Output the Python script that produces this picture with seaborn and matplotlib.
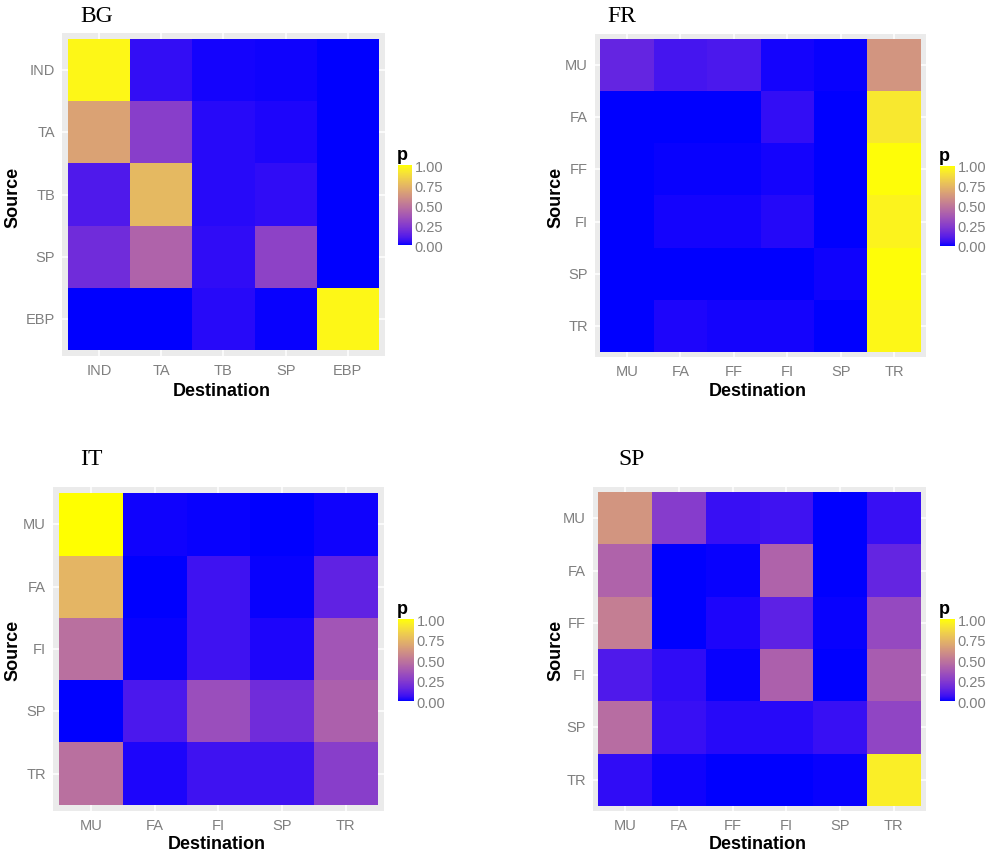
import numpy as np
import pandas as pd
import matplotlib
matplotlib.use("Agg")
import matplotlib.pyplot as plt
from matplotlib.colors import ListedColormap
import seaborn as sns

# ---- data ----
bg_labels = ["IND", "TA", "TB", "SP", "EBP"]
bg_values = [
    [0.97, 0.05, 0.015, 0.01, 0.00],
    [0.67, 0.26, 0.035, 0.02, 0.00],
    [0.10, 0.75, 0.035, 0.045, 0.00],
    [0.18, 0.42, 0.045, 0.28, 0.00],
    [0.00, 0.00, 0.035, 0.005, 0.97],
]

fr_labels = ["MU", "FA", "FF", "FI", "SP", "TR"]
fr_values = [
    [0.15, 0.08, 0.09, 0.015, 0.005, 0.62],
    [0.00, 0.00, 0.00, 0.05, 0.00, 0.92],
    [0.00, 0.005, 0.005, 0.015, 0.00, 0.99],
    [0.00, 0.015, 0.015, 0.03, 0.00, 0.96],
    [0.00, 0.00, 0.00, 0.00, 0.01, 0.99],
    [0.00, 0.02, 0.015, 0.015, 0.00, 0.97],
]

it_labels = ["MU", "FA", "FI", "SP", "TR"]
it_values = [
    [1.00, 0.01, 0.005, 0.00, 0.01],
    [0.74, 0.00, 0.07, 0.005, 0.14],
    [0.47, 0.005, 0.07, 0.02, 0.36],
    [0.00, 0.09, 0.33, 0.18, 0.41],
    [0.47, 0.02, 0.07, 0.07, 0.26],
]

sp_labels = ["MU", "FA", "FF", "FI", "SP", "TR"]
sp_values = [
    [0.62, 0.25, 0.055, 0.07, 0.00, 0.055],
    [0.42, 0.00, 0.005, 0.42, 0.00, 0.15],
    [0.53, 0.00, 0.02, 0.13, 0.005, 0.31],
    [0.10, 0.045, 0.005, 0.41, 0.00, 0.39],
    [0.46, 0.055, 0.035, 0.035, 0.055, 0.29],
    [0.045, 0.01, 0.00, 0.00, 0.005, 0.94],
]


# blue -> yellow gradient interpolated in CIELAB (like ggplot's scale_fill_gradient)
M = np.array([[0.4124, 0.3576, 0.1805],
              [0.2126, 0.7152, 0.0722],
              [0.0193, 0.1192, 0.9505]])
WHITE = np.array([0.95047, 1.0, 1.08883])


def to_lab(rgb):
    c = np.asarray(rgb, float)
    lin = np.where(c <= 0.04045, c / 12.92, ((c + 0.055) / 1.055) ** 2.4)
    xyz = M @ lin / WHITE
    f = np.where(xyz > 0.008856, np.cbrt(xyz), 7.787 * xyz + 16 / 116)
    return np.array([116 * f[1] - 16, 500 * (f[0] - f[1]), 200 * (f[1] - f[2])])


def from_lab(lab):
    L, a, b = lab
    fy = (L + 16) / 116
    f = np.array([fy + a / 500, fy, fy - b / 200])
    xyz = np.where(f ** 3 > 0.008856, f ** 3, (f - 16 / 116) / 7.787) * WHITE
    lin = np.clip(np.linalg.solve(M, xyz), 0, 1)
    c = np.where(lin <= 0.0031308, 12.92 * lin, 1.055 * lin ** (1 / 2.4) - 0.055)
    # the reference image is a bit darker than a plain Lab ramp
    return np.clip(c, 0, 1) ** 1.25


lab0, lab1 = to_lab([0, 0, 1]), to_lab([1, 1, 0])
cmap = ListedColormap([from_lab(lab0 + t * (lab1 - lab0)) for t in np.linspace(0, 1, 256)])

sns.set_theme(style="white")
plt.rcParams["font.family"] = ["Liberation Sans", "DejaVu Sans"]

fig = plt.figure(figsize=(9.92, 8.62), dpi=100)

panels = [
    ("BG", bg_labels, bg_values, [0.0625, 0.5858, 0.3256, 0.3747], [0.4012, 0.7146, 0.0141, 0.0928],
     (80, 17), (13, 197), (222, 392)),
    ("FR", fr_labels, fr_values, [0.5998, 0.5847, 0.3337, 0.3747], [0.9476, 0.7135, 0.0151, 0.0928],
     (607, 17), (556, 197), (758, 392)),
    ("IT", it_labels, it_values, [0.0534, 0.0580, 0.3337, 0.3759], [0.4012, 0.1856, 0.0161, 0.0951],
     (80, 460), (13, 650), (217, 845)),
    ("SP", sp_labels, sp_values, [0.5978, 0.0580, 0.3357, 0.3759], [0.9476, 0.1856, 0.0151, 0.0951],
     (618, 460), (556, 650), (758, 845)),
]

W, H = 992, 862
for name, labels, values, rect, crect, tpos, ypos, xpos in panels:
    ax = fig.add_axes(rect)
    cax = fig.add_axes(crect)
    df = pd.DataFrame(values, index=labels, columns=labels)
    sns.heatmap(df, ax=ax, cmap=cmap, vmin=0, vmax=1, cbar_ax=cax,
                cbar_kws={"ticks": [0, 0.25, 0.5, 0.75, 1.0], "format": "%.2f"})
    n = len(labels)
    ax.set_facecolor("#EBEBEB")
    ax.set_xlim(-0.1, n + 0.1)
    ax.set_ylim(n + 0.1, -0.1)
    ax.set_axisbelow(True)
    ax.grid(True, color="white", linewidth=1.1)
    ax.set_xlabel("")
    ax.set_ylabel("")
    ax.tick_params(axis="both", length=3, width=0.8, color="#444444",
                   labelcolor="#7F7F7F", labelsize=10.5, pad=2)
    ax.set_xticklabels(labels, rotation=0)
    ax.set_yticklabels(labels, rotation=0)

    cb = ax.collections[0].colorbar
    cb.outline.set_visible(False)
    cax.tick_params(length=3, width=0.8, color="white", direction="in",
                    labelcolor="#7F7F7F", labelsize=10.5, pad=2)
    cax.text(-0.05, 1.02, "p", transform=cax.transAxes, fontsize=13,
             fontweight="bold", ha="left", va="bottom", color="black")

    fig.text(tpos[0] / W, 1 - tpos[1] / H, name, family=["Liberation Serif", "DejaVu Serif"],
             fontsize=17, ha="left", va="center", color="black")
    fig.text(ypos[0] / W, 1 - ypos[1] / H, "Source", rotation=90, fontsize=13,
             fontweight="bold", ha="center", va="center", color="black")
    fig.text(xpos[0] / W, 1 - xpos[1] / H, "Destination", fontsize=13,
             fontweight="bold", ha="center", va="center", color="black")

fig.savefig("out.png", dpi=100, facecolor="white")
